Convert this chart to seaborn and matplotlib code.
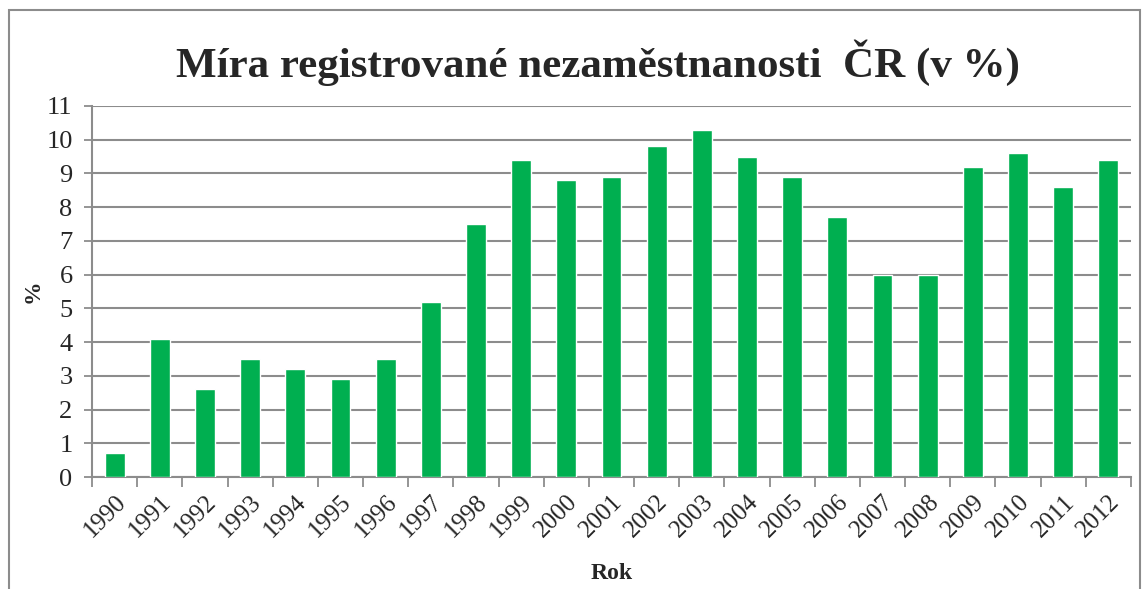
import matplotlib
matplotlib.use("Agg")
import matplotlib.pyplot as plt
import seaborn as sns
import pandas as pd
from matplotlib.patches import Rectangle

years = [str(y) for y in range(1990, 2013)]
rates = [0.7, 4.1, 2.6, 3.5, 3.2, 2.9, 3.5, 5.2, 7.5, 9.4, 8.8, 8.9,
         9.8, 10.3, 9.5, 8.9, 7.7, 6.0, 6.0, 9.2, 9.6, 8.6, 9.4]
title = "Míra registrované nezaměstnanosti  ČR (v %)"

df = pd.DataFrame({"rok": years, "mira": rates})

sns.set_theme(style="white")
plt.rcParams["font.family"] = ["Liberation Serif", "DejaVu Serif"]

fig = plt.figure(figsize=(11.48, 5.89), dpi=100)
ax = fig.add_axes([92 / 1148, 1 - 477 / 589, (1131 - 92) / 1148, (477 - 106) / 589])

sns.barplot(data=df, x="rok", y="mira", color="#00AF50", width=0.44,
            saturation=1, ax=ax, zorder=3)

ax.set_ylim(0, 11)
ax.set_xlim(-0.5, len(years) - 0.5)
ax.set_yticks(range(0, 12))
ax.yaxis.grid(True, color="#8c8c8c", linewidth=1.5, zorder=0)
ax.set_axisbelow(True)

ax.set_xticks(range(len(years)))
ax.set_xticklabels(years, rotation=45, ha="right", rotation_mode="anchor", fontsize=18)
ax.tick_params(axis="x", length=0, pad=10)
ax.tick_params(axis="y", labelsize=19, length=6, width=1.3, color="#8c8c8c", left=True, pad=8)
# tick marks between categories
ax.set_xticks([i - 0.5 for i in range(len(years) + 1)], minor=True)
ax.tick_params(axis="x", which="minor", length=7, width=1.3, color="#8c8c8c", bottom=True)

for side in ["top", "right"]:
    ax.spines[side].set_visible(False)
for side in ["left", "bottom"]:
    ax.spines[side].set_color("#8c8c8c")
    ax.spines[side].set_linewidth(1.5)

ax.set_xlabel("Rok", fontsize=17, fontweight="bold", labelpad=15)
ax.set_ylabel("%", fontsize=17, fontweight="bold", labelpad=2)

fig.text(598 / 1148, 1 - 63 / 589, title, ha="center", va="center",
         fontsize=31, fontweight="bold")

fig.patches.append(Rectangle((9 / 1148, -0.02), (1140 - 9) / 1148, 1.02 - 10 / 589,
                             transform=fig.transFigure, fill=False,
                             edgecolor="#8c8c8c", linewidth=1.5))

fig.savefig("out.png", dpi=100)
